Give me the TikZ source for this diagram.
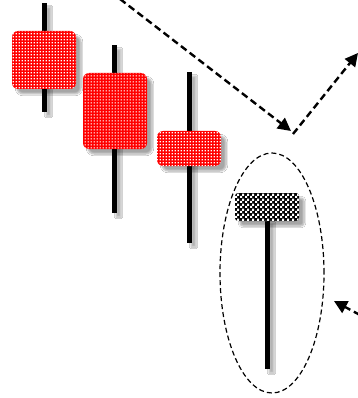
\documentclass[tikz,border=0pt]{standalone}
\usetikzlibrary{arrows.meta,patterns,shadows,shadows.blur,shapes.geometric}
\pgfdeclarepatternformonly{whitedots}{\pgfpointorigin}{\pgfpoint{3pt}{3pt}}{\pgfpoint{3pt}{3pt}}{%
  \pgfpathrectangle{\pgfpoint{0.8pt}{0.8pt}}{\pgfpoint{1.5pt}{1.5pt}}\pgfusepath{fill}}
\pgfdeclarepatternformonly{finecheck}{\pgfpointorigin}{\pgfpoint{5pt}{5pt}}{\pgfpoint{5pt}{5pt}}{%
  \pgfpathrectangle{\pgfpoint{0pt}{0pt}}{\pgfpoint{2.5pt}{2.5pt}}%
  \pgfpathrectangle{\pgfpoint{2.5pt}{2.5pt}}{\pgfpoint{2.5pt}{2.5pt}}\pgfusepath{fill}}
\tikzset{
  wick/.style={fill=black, draw=none, inner sep=0pt, minimum width=5pt,
    blur shadow={shadow xshift=4pt, shadow yshift=-4pt, shadow opacity=30, shadow blur steps=6}},
  redbody/.style={draw=none, fill=red, rounded corners=6pt, inner sep=0pt,
    blur shadow={shadow xshift=5pt, shadow yshift=-5pt, shadow opacity=35, shadow blur steps=8},
    postaction={pattern=whitedots, pattern color=white}},
  hammerbody/.style={draw=none, fill=black, rounded corners=3pt, inner sep=0pt,
    blur shadow={shadow xshift=5pt, shadow yshift=-5pt, shadow opacity=35, shadow blur steps=8},
    postaction={pattern=finecheck, pattern color=white}},
  trend/.style={line width=2.4pt, dash pattern=on 7pt off 4pt, -{Triangle[length=13pt,width=13pt]}}
}
\begin{document}
\begin{tikzpicture}[x=1pt,y=-1pt]
\useasboundingbox[fill=white] (0,0) rectangle (357,398);
% candle 1
\node[wick, minimum height=109pt] (w1) at (44.5,57.5) {};
\node[redbody, minimum width=64pt, minimum height=58pt] (b1) at (44,60) {};
% candle 2
\node[wick, minimum height=168pt] (w2) at (114.5,129) {};
\node[redbody, minimum width=64pt, minimum height=76pt] (b2) at (115,111) {};
% candle 3
\node[wick, minimum height=171pt] (w3) at (189.5,157.5) {};
\node[redbody, minimum width=64pt, minimum height=35pt] (b3) at (189,148.5) {};
% hammer
\node[wick, minimum height=150pt] (w4) at (267.5,294) {};
\node[hammerbody, minimum width=64pt, minimum height=28pt] (b4) at (267,207) {};
% ellipse
\node[ellipse, draw, line width=1.2pt, dash pattern=on 5pt off 3pt, minimum width=104pt, minimum height=240pt] (e) at (272,273) {};
% arrows
\coordinate (a0) at (120,-1);
\coordinate (a1) at (291,131);
\coordinate (a2) at (293,134);
\coordinate (a3) at (358,53);
\coordinate (c0) at (360,315);
\coordinate (c1) at (334,301);
\draw[trend] (a0) -- (a1);
\draw[trend] (a2) -- (a3);
\draw[trend] (c0) -- (c1);
\end{tikzpicture}
\end{document}
